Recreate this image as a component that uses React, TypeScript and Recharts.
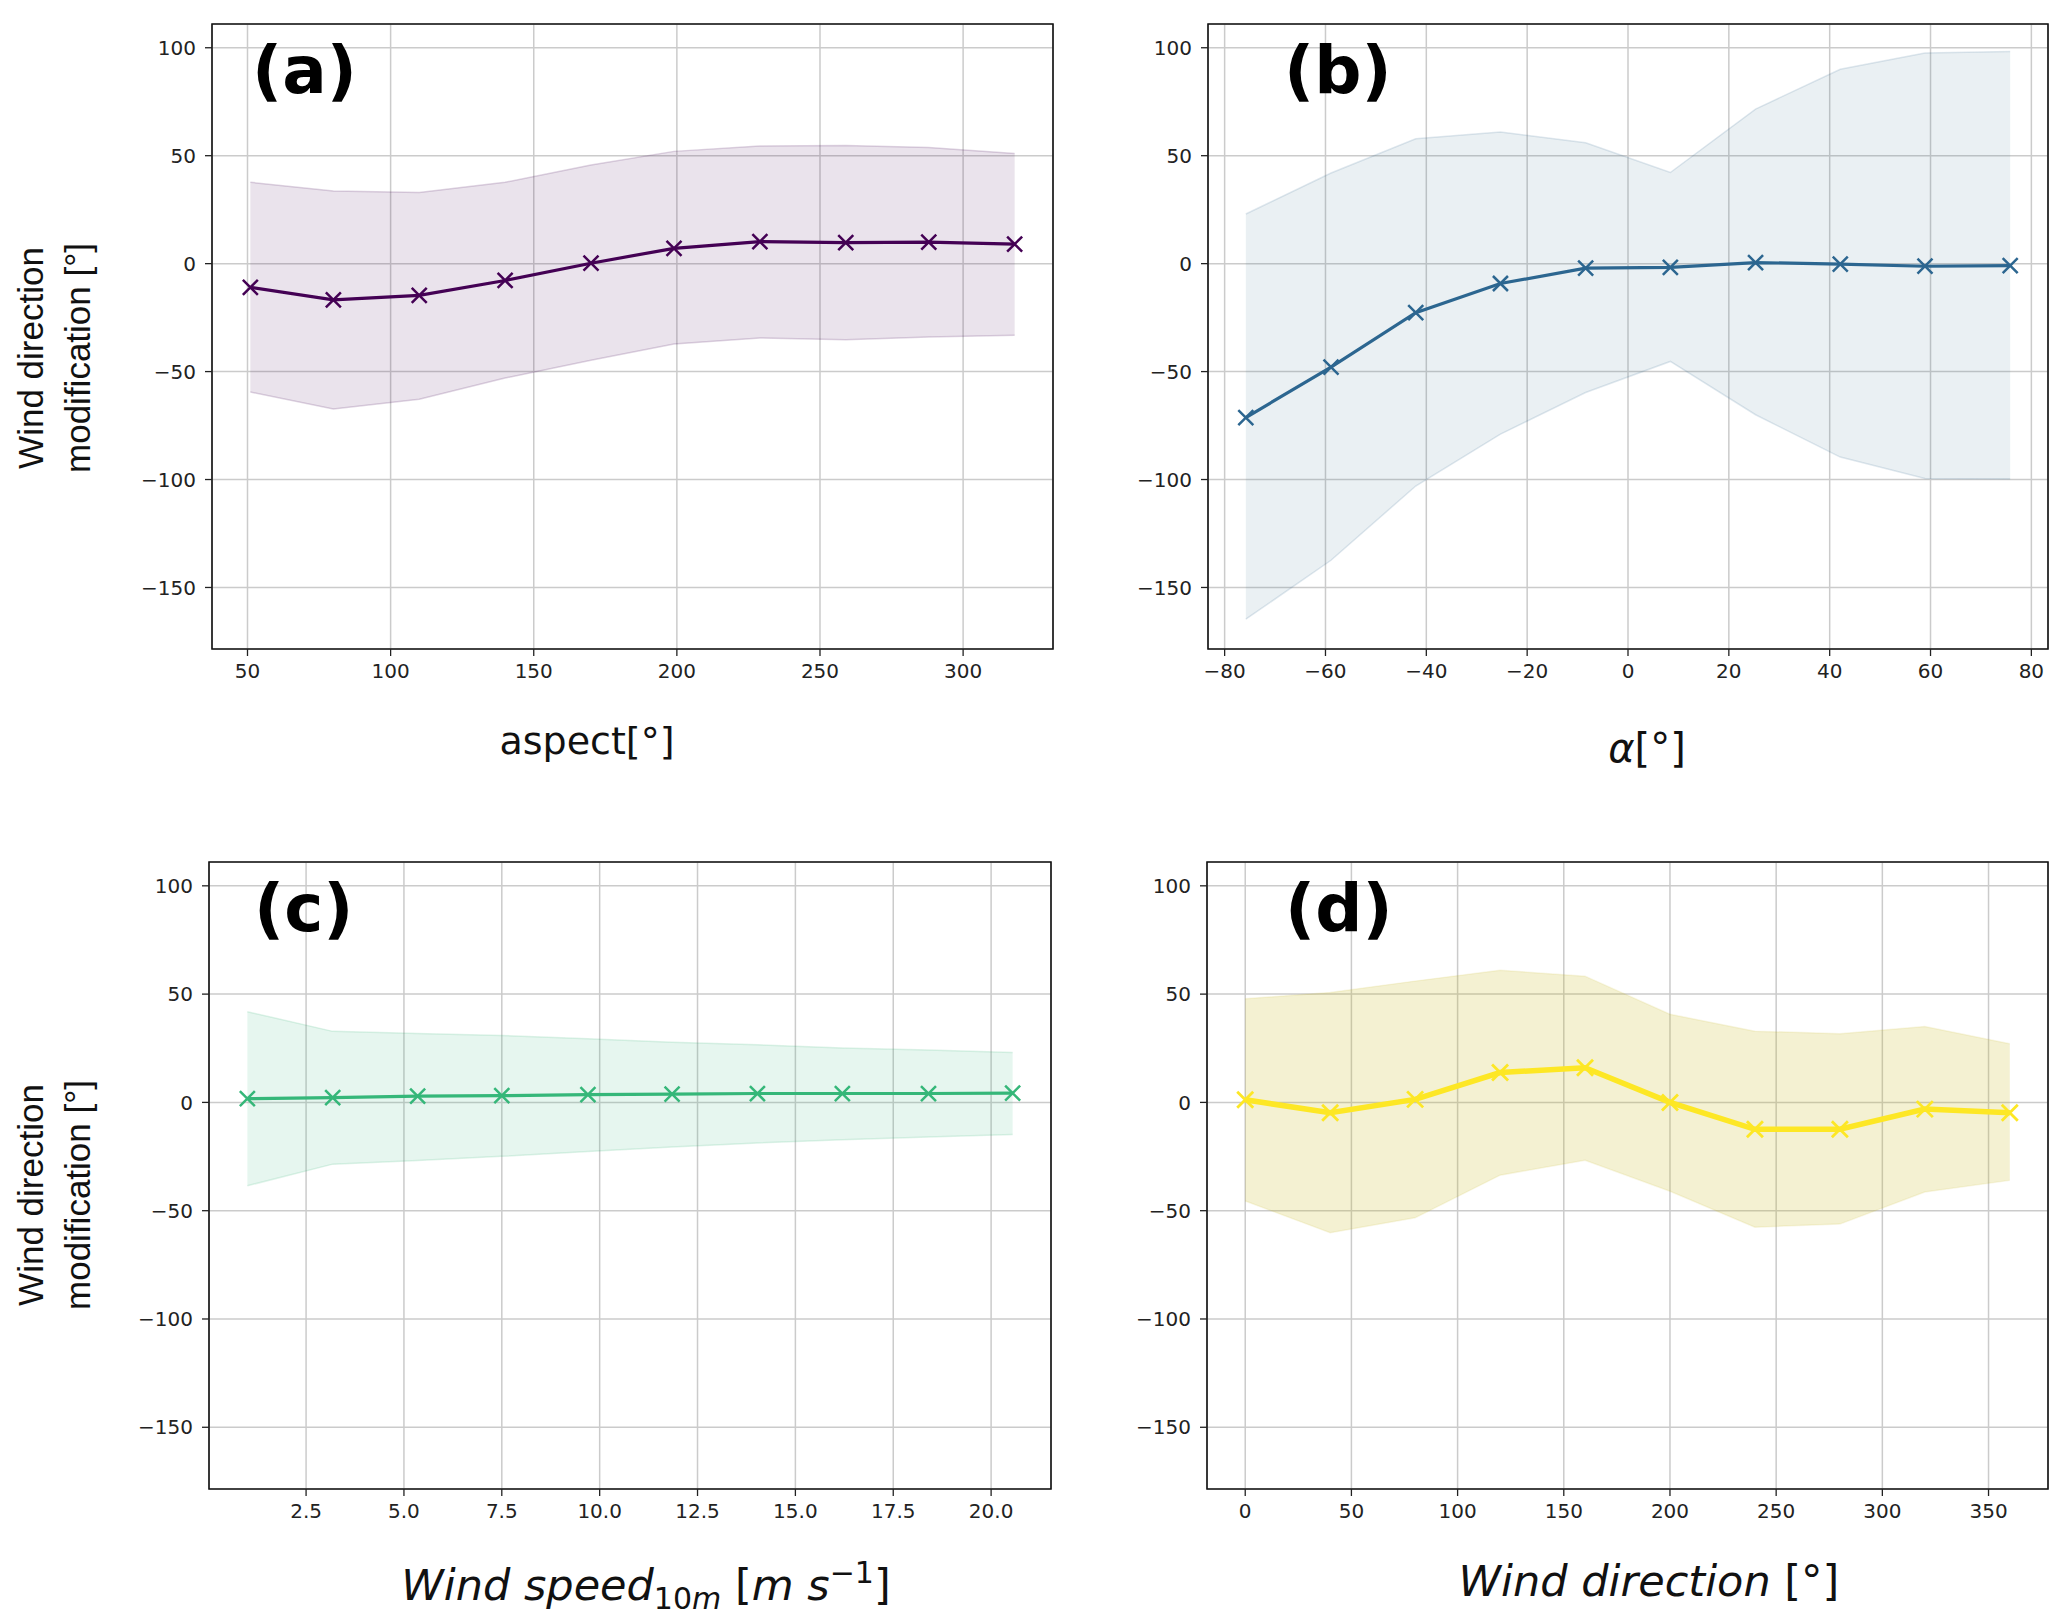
import React from 'react';
import { ComposedChart, Area, Line, XAxis, YAxis, CartesianGrid, ReferenceArea } from 'recharts';

// (a) aspect
const aspectX = [51, 80, 110, 140, 170, 199, 229, 259, 288, 318];
const aspectMean = [-11, -16.8, -14.7, -7.8, 0.2, 7.1, 10.2, 9.7, 10, 9];
const aspectHigh = [37.7, 33.6, 33, 37.7, 45.7, 52, 54.5, 54.7, 53.8, 51];
const aspectLow = [-59.5, -67.3, -62.8, -53, -44.8, -37.2, -34.4, -35.3, -34, -33.2];
const aspectTicks = [50, 100, 150, 200, 250, 300];

// (b) alpha
const alphaX = [-75.8, -58.9, -42.1, -25.3, -8.4, 8.4, 25.3, 42.1, 58.9, 75.8];
const alphaMean = [-71.3, -47.9, -22.7, -9.2, -2.1, -1.7, 0.5, -0.2, -1.2, -0.9];
const alphaHigh = [23, 42, 57.8, 61, 56, 42.2, 71.6, 90, 97.6, 98.3];
const alphaLow = [-164.7, -137.4, -103, -79, -59.7, -45.3, -70, -89.6, -99.5, -99.8];
const alphaTicks = [-80, -60, -40, -20, 0, 20, 40, 60, 80];

// (c) wind speed
const speedX = [1.0, 3.18, 5.35, 7.5, 9.7, 11.85, 14.03, 16.2, 18.4, 20.55];
const speedMean = [1.7, 2.2, 2.9, 3.1, 3.6, 3.8, 4.1, 4.1, 4.1, 4.3];
const speedHigh = [41.9, 32.8, 31.8, 30.9, 29.4, 27.8, 26.6, 25.1, 24.2, 23];
const speedLow = [-38.5, -28.5, -26.8, -24.9, -22.7, -20.6, -18.7, -17.2, -16, -14.8];
const speedTicks = [2.5, 5, 7.5, 10, 12.5, 15, 17.5, 20];

// (d) wind direction
const dirX = [0, 40, 80, 120, 160, 200, 240, 280, 320, 360];
const dirMean = [1.2, -4.8, 1.4, 13.8, 16, 0, -12.4, -12.4, -3.1, -4.8];
const dirHigh = [47.9, 50.7, 56, 61, 58.3, 40.7, 32.9, 31.7, 35, 27.1];
const dirLow = [-45.5, -60.2, -53.3, -33.6, -26.7, -41, -57.6, -56.2, -41.4, -36];
const dirTicks = [0, 50, 100, 150, 200, 250, 300, 350];

const yTicks = [-150, -100, -50, 0, 50, 100];
const Y_DOMAIN: [number, number] = [-178.5, 111];

const FONT = '"DejaVu Sans", sans-serif';
const YAXIS_W = 205;

const rows = (x: number[], m: number[], lo: number[], hi: number[]) =>
  x.map((v, i) => ({ x: v, mean: m[i], band: [lo[i], hi[i]] }));

const minus = (v: number, digits = 0) => {
  const s = Math.abs(v).toFixed(digits);
  return v < 0 ? '\u2212' + s : s;
};

const xMarker = (size: number, color: string, sw: number) => (props: any) => {
  const { cx, cy, index } = props;
  if (cx == null || cy == null) return <g key={index} />;
  return (
    <path
      key={index}
      d={`M${cx - size},${cy - size}L${cx + size},${cy + size}M${cx - size},${cy + size}L${cx + size},${cy - size}`}
      stroke={color}
      strokeWidth={sw}
      fill="none"
    />
  );
};

type PanelProps = {
  box: { L: number; R: number; T: number; B: number };
  data: any[];
  xDomain: [number, number];
  xTicks: number[];
  xDigits?: number;
  color: string;
  fill: string;
  fillOpacity: number;
  edgeOpacity: number;
  lineWidth: number;
  markSize: number;
  markWidth: number;
  letter: string;
  letterDx: number;
  xLabel: React.ReactNode;
  xLabelSize: number;
  xLabelPos: [number, number];
  yLabelCy?: number;
};

function Panel(p: PanelProps) {
  const { L, R, T, B } = p.box;
  const ox = L - YAXIS_W;
  const oy = T - 10;
  const w = R - L + YAXIS_W + 10;
  const h = B - T + 10 + 130;
  return (
    <div style={{ position: 'absolute', left: ox, top: oy, width: w, height: h }}>
      <ComposedChart width={w} height={h} data={p.data} margin={{ top: 10, right: 10, left: 0, bottom: 0 }}>
        <CartesianGrid stroke="#cbcbcb" strokeWidth={1.5} />
        <XAxis
          type="number"
          dataKey="x"
          domain={p.xDomain}
          ticks={p.xTicks}
          interval={0}
          allowDataOverflow
          height={130}
          axisLine={false}
          tickSize={7}
          tickMargin={8}
          tickLine={{ stroke: '#222', strokeWidth: 1.3 }}
          tick={{ fill: '#222', fontSize: 20, fontFamily: FONT }}
          tickFormatter={(v: number) => minus(v, p.xDigits ?? 0)}
        />
        <YAxis
          type="number"
          domain={Y_DOMAIN}
          ticks={yTicks}
          interval={0}
          allowDataOverflow
          width={YAXIS_W}
          axisLine={false}
          tickSize={7}
          tickMargin={9}
          tickLine={{ stroke: '#222', strokeWidth: 1.3 }}
          tick={{ fill: '#222', fontSize: 20, fontFamily: FONT }}
          tickFormatter={(v: number) => minus(v)}
        />
        <Area
          type="linear"
          dataKey="band"
          fill={p.fill}
          fillOpacity={p.fillOpacity}
          stroke={p.fill}
          strokeOpacity={p.edgeOpacity}
          strokeWidth={1.5}
          isAnimationActive={false}
          dot={false}
          activeDot={false}
        />
        <Line
          type="linear"
          dataKey="mean"
          stroke={p.color}
          strokeWidth={p.lineWidth}
          dot={xMarker(p.markSize, p.color, p.markWidth)}
          activeDot={false}
          isAnimationActive={false}
        />
        <ReferenceArea
          x1={p.xDomain[0]}
          x2={p.xDomain[1]}
          y1={Y_DOMAIN[0]}
          y2={Y_DOMAIN[1]}
          fill="none"
          stroke="#111"
          strokeWidth={1.6}
          ifOverflow="visible"
        />
        <text
          x={L + p.letterDx - ox}
          y={T + 69 - oy}
          fontFamily={FONT}
          fontWeight="bold"
          fontSize={66}
          fill="#000"
        >
          {p.letter}
        </text>
        <text
          x={p.xLabelPos[0] - ox}
          y={p.xLabelPos[1] - oy}
          fontFamily={FONT}
          fontSize={p.xLabelSize}
          fill="#111"
          textAnchor="middle"
        >
          {p.xLabel}
        </text>
        {p.yLabelCy != null && (
          <g fontFamily='"Liberation Sans", Arial, sans-serif' fontSize={35} fill="#111">
            <text
              x={43 - ox}
              y={p.yLabelCy - oy}
              textAnchor="middle"
              transform={`rotate(-90 ${43 - ox} ${p.yLabelCy - oy})`}
            >
              Wind direction
            </text>
            <text
              x={90 - ox}
              y={p.yLabelCy - oy}
              textAnchor="middle"
              transform={`rotate(-90 ${90 - ox} ${p.yLabelCy - oy})`}
            >
              modification [°]
            </text>
          </g>
        )}
      </ComposedChart>
    </div>
  );
}

export default function App() {
  return (
    <div style={{ position: 'absolute', left: 0, top: 0, width: 2067, height: 1624, background: '#fff' }}>
      <Panel
        box={{ L: 212, R: 1053, T: 24, B: 649 }}
        data={rows(aspectX, aspectMean, aspectLow, aspectHigh)}
        xDomain={[37.6, 331.4]}
        xTicks={aspectTicks}
        color="#440154"
        fill="#440154"
        fillOpacity={0.11}
        edgeOpacity={0.17}
        lineWidth={3.2}
        markSize={7.5}
        markWidth={2.5}
        letter="(a)"
        letterDx={40}
        xLabel="aspect[°]"
        xLabelSize={38}
        xLabelPos={[587, 754]}
        yLabelCy={358}
      />
      <Panel
        box={{ L: 1208, R: 2048, T: 24, B: 649 }}
        data={rows(alphaX, alphaMean, alphaLow, alphaHigh)}
        xDomain={[-83.3, 83.3]}
        xTicks={alphaTicks}
        color="#2c6690"
        fill="#31688e"
        fillOpacity={0.1}
        edgeOpacity={0.15}
        lineWidth={3.2}
        markSize={7.5}
        markWidth={2.5}
        letter="(b)"
        letterDx={76}
        xLabel={
          <>
            <tspan fontStyle="italic">α</tspan>
            <tspan>[°]</tspan>
          </>
        }
        xLabelSize={40}
        xLabelPos={[1647, 762]}
      />
      <Panel
        box={{ L: 209, R: 1051, T: 862, B: 1489 }}
        data={rows(speedX, speedMean, speedLow, speedHigh)}
        xDomain={[0.02, 21.53]}
        xTicks={speedTicks}
        xDigits={1}
        color="#35b779"
        fill="#35b779"
        fillOpacity={0.12}
        edgeOpacity={0.16}
        lineWidth={3.2}
        markSize={7.5}
        markWidth={2.5}
        letter="(c)"
        letterDx={45}
        xLabel={
          <>
            <tspan fontStyle="italic">Wind speed</tspan>
            <tspan fontSize={30} dy={9}>10</tspan>
            <tspan fontSize={30} fontStyle="italic">m</tspan>
            <tspan dy={-9}> [</tspan>
            <tspan fontStyle="italic">m s</tspan>
            <tspan fontSize={30} dy={-17}>{'\u2212'}1</tspan>
            <tspan dy={17}>]</tspan>
          </>
        }
        xLabelSize={43}
        xLabelPos={[646, 1600]}
        yLabelCy={1195}
      />
      <Panel
        box={{ L: 1207, R: 2048, T: 862, B: 1489 }}
        data={rows(dirX, dirMean, dirLow, dirHigh)}
        xDomain={[-18, 378]}
        xTicks={dirTicks}
        color="#fde725"
        fill="#c8b820"
        fillOpacity={0.2}
        edgeOpacity={0.12}
        lineWidth={5.5}
        markSize={8}
        markWidth={2.8}
        letter="(d)"
        letterDx={78}
        xLabel={
          <>
            <tspan fontStyle="italic">Wind direction</tspan>
            <tspan> [°]</tspan>
          </>
        }
        xLabelSize={43}
        xLabelPos={[1649, 1596]}
      />
    </div>
  );
}
